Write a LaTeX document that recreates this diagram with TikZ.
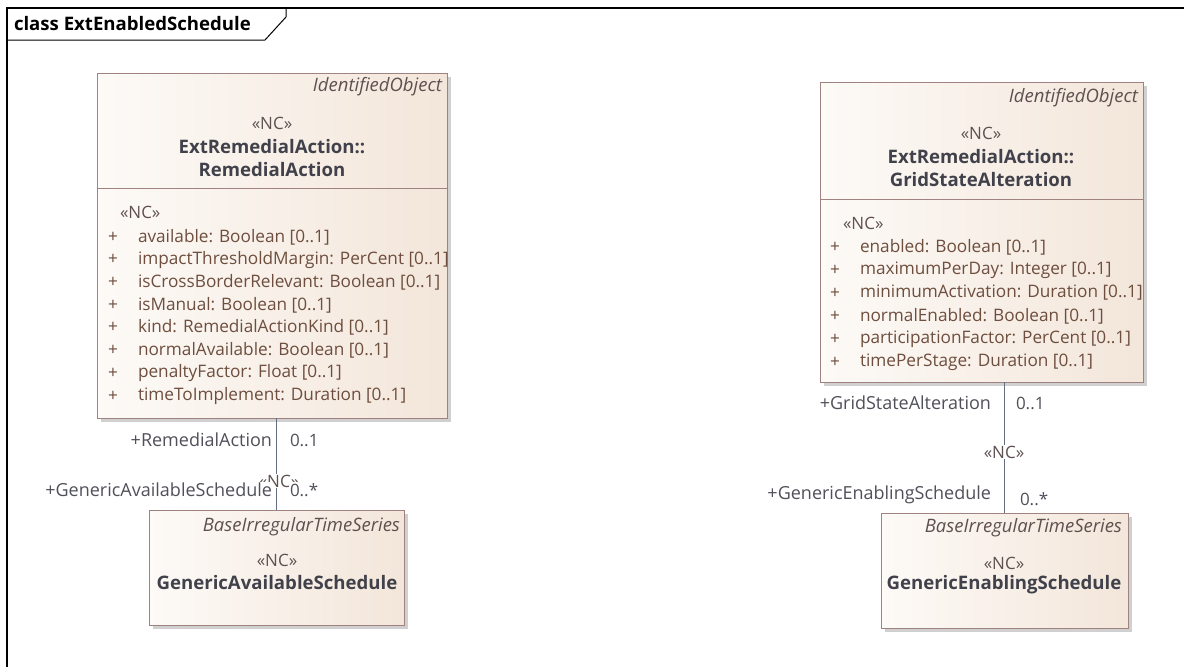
\documentclass[tikz,border=0pt]{standalone}
\usepackage{fontspec}
\setmainfont{Open Sans}
\usetikzlibrary{shadows}
\definecolor{boxborder}{RGB}{160,130,128}
\definecolor{boxL}{RGB}{253,250,247}
\definecolor{boxR}{RGB}{243,230,218}
\definecolor{shadowc}{RGB}{208,208,208}
\definecolor{nametext}{RGB}{65,65,75}
\definecolor{stereotext}{RGB}{95,80,80}
\definecolor{attrtext}{RGB}{110,78,62}
\definecolor{connline}{RGB}{100,110,130}
\definecolor{conntext}{RGB}{80,80,90}
\begin{document}
\begin{tikzpicture}[x=1pt,y=-1pt,
  every node/.style={inner sep=1pt, outer sep=0pt},
  classbox/.style={draw=boxborder, line width=1pt, left color=boxL, right color=boxR,
    drop shadow={shadow xshift=4pt, shadow yshift=-4pt, fill=shadowc, opacity=1},
    inner sep=0pt, anchor=north west},
  divider/.style={draw=boxborder, line width=1pt},
  parent/.style={text=stereotext, font=\fontsize{18.5}{20}\selectfont\itshape, anchor=east},
  stereo/.style={text=stereotext, font=\fontsize{17}{19}\selectfont},
  cname/.style={text=nametext, font=\fontsize{18.6}{20}\selectfont\bfseries},
  attr/.style={text=attrtext, font=\fontsize{17.2}{19}\selectfont, anchor=west},
  conn/.style={draw=connline, line width=1pt},
  role/.style={text=conntext, fill=white, font=\fontsize{18}{20}\selectfont},
  mult/.style={text=conntext, fill=white, font=\fontsize{17}{19}\selectfont, anchor=west}
]
\useasboundingbox (0,0) rectangle (1184,667);

% diagram frame and its name tab
\draw[line width=1.2pt] (7,667) -- (7,8) -- (1184,8);
\draw[line width=1pt] (7,40) -- (265,40) -- (286,17) -- (286,8);
\node[anchor=west, font=\fontsize{18.6}{20}\selectfont\bfseries] (title) at (13,24) {class ExtEnabledSchedule};

% ---------- RemedialAction ----------
\node[classbox, minimum width=350, minimum height=345] (ra) at (97,73) {};
\node[parent] (ra-p) at (443,87) {IdentifiedObject};
\node[stereo] (ra-s) at (272,123) {«NC»};
\node[cname] (ra-n1) at (272,147) {ExtRemedialAction::};
\node[cname] (ra-n2) at (272,170) {RemedialAction};
\draw[divider] (97,188) -- (447,188);
\node[stereo, anchor=west] (ra-as) at (119,212) {«NC»};
\foreach \t [count=\i from 0] in {
  available: Boolean [0..1],
  impactThresholdMargin: PerCent [0..1],
  isCrossBorderRelevant: Boolean [0..1],
  isManual: Boolean [0..1],
  kind: RemedialActionKind [0..1],
  normalAvailable: Boolean [0..1],
  penaltyFactor: Float [0..1],
  timeToImplement: Duration [0..1]}{
  \node[attr, anchor=center] (ra-plus\i) at (113,237+22.7*\i) {+};
  \node[attr] (ra-a\i) at (137,237+22.7*\i) {\t};
}

% ---------- GenericAvailableSchedule ----------
\node[classbox, minimum width=255, minimum height=115] (gas) at (149,510) {};
\node[parent] (gas-p) at (401,527) {BaseIrregularTimeSeries};
\node[stereo] (gas-s) at (277,560) {«NC»};
\node[cname] (gas-n) at (277,583) {GenericAvailableSchedule};

% ---------- GridStateAlteration ----------
\node[classbox, minimum width=323, minimum height=300] (gsa) at (820,82) {};
\node[parent] (gsa-p) at (1139,98) {IdentifiedObject};
\node[stereo] (gsa-s) at (981,133) {«NC»};
\node[cname] (gsa-n1) at (981,157) {ExtRemedialAction::};
\node[cname] (gsa-n2) at (981,180) {GridStateAlteration};
\draw[divider] (820,199) -- (1143,199);
\node[stereo, anchor=west] (gsa-as) at (842,223) {«NC»};
\foreach \t [count=\i from 0] in {
  enabled: Boolean [0..1],
  maximumPerDay: Integer [0..1],
  minimumActivation: Duration [0..1],
  normalEnabled: Boolean [0..1],
  participationFactor: PerCent [0..1],
  timePerStage: Duration [0..1]}{
  \node[attr, anchor=center] (gsa-plus\i) at (835,247+23*\i) {+};
  \node[attr] (gsa-a\i) at (859,247+23*\i) {\t};
}

% ---------- GenericEnablingSchedule ----------
\node[classbox, minimum width=247, minimum height=115] (ges) at (881,513) {};
\node[parent] (ges-p) at (1123,528) {BaseIrregularTimeSeries};
\node[stereo] (ges-s) at (1004,563) {«NC»};
\node[cname] (ges-n) at (1004,585) {GenericEnablingSchedule};

% ---------- associations ----------
\draw[conn] (ra.south -| gas.north) -- (gas.north);
\node[stereo, fill=white] (a1-s) at (279,481) {«NC»};
\node[role, anchor=east] (a1-r1) at (273,440) {+RemedialAction};
\node[mult] (a1-m1) at (289,440) {0..1};
\node[role, anchor=east] (a1-r2) at (273,490) {+GenericAvailableSchedule};
\node[mult] (a1-m2) at (289,490) {0..*};

\draw[conn] (gsa.south -| ges.north) -- (ges.north);
\node[stereo, fill=white] (a2-s) at (1004,452) {«NC»};
\node[role, anchor=east] (a2-r1) at (992,403) {+GridStateAlteration};
\node[mult] (a2-m1) at (1015,403) {0..1};
\node[role, anchor=east] (a2-r2) at (992,495) {+GenericEnablingSchedule};
\node[mult] (a2-m2) at (1019,499) {0..*};
\end{tikzpicture}
\end{document}
